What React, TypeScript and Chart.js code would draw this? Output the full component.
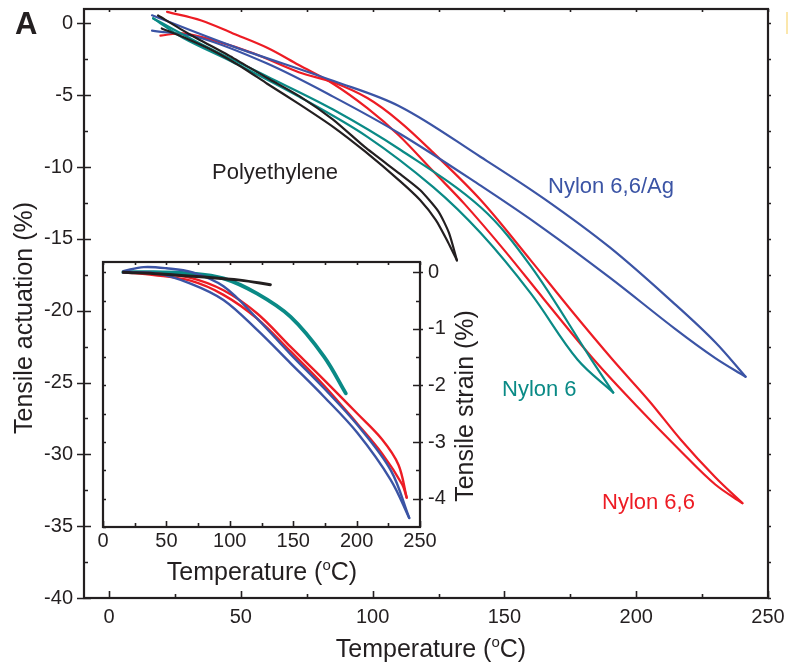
import React, { useEffect, useRef } from "react";
import { Chart, registerables } from "chart.js";

Chart.register(...registerables);

const FONT = '"Liberation Sans", Arial, Helvetica, sans-serif';
const INK = "#231f20";
const RED = "#ed1c24";
const BLUE = "#3b54a5";
const TEAL = "#0a8a86";
const BLACK = "#231f20";

// ---------- main panel: tensile actuation (%) vs temperature ----------
const mainXTicks = [0, 50, 100, 150, 200, 250];
const mainXMinor = [25, 75, 125, 175, 225];
const mainXTop = [0, 25, 50, 75, 100, 125, 150, 175, 200, 225, 250];
const mainYTicks = [0, -5, -10, -15, -20, -25, -30, -35, -40];
const mainYMinor = [-2.5, -7.5, -12.5, -17.5, -22.5, -27.5, -32.5, -37.5];

// Nylon 6,6 (red), two branches of the loop
const n66aT = [22, 35, 47, 60, 72, 85, 98, 110, 123, 135, 150, 165, 183.9, 200, 217, 230, 240.3];
const n66aA = [0.8, 0.2, -0.7, -1.7, -2.9, -4.2, -5.9, -7.8, -10.3, -12.6, -15.8, -19.2, -23.4, -26.6, -29.8, -32.1, -33.4];
const n66bT = [19.5, 28, 40, 55, 72, 85, 98, 110, 123, 141, 160, 175, 191, 205, 217, 230, 240.3];
const n66bA = [-0.85, -0.7, -1.2, -2.1, -3.4, -4.1, -5.2, -6.8, -9.0, -12.3, -16.5, -19.9, -23.4, -26.3, -29.0, -31.6, -33.4];

// Nylon 6 (teal)
const n6aT = [16.7, 34.5, 60, 85, 110.5, 141, 160, 183, 191.3];
const n6aA = [0.35, -1.4, -3.7, -6.0, -8.8, -12.8, -16.9, -23.4, -25.7];
const n6bT = [16.7, 28, 47, 72, 98, 123, 141, 160, 177.7, 191.3];
const n6bA = [0.35, -1.0, -2.7, -5.1, -7.9, -11.4, -14.6, -18.8, -23.4, -25.7];

// Nylon 6,6/Ag (blue)
const agaT = [16.3, 47, 85, 110.5, 141, 165, 190, 215, 230, 241.5];
const agaA = [0.56, -1.6, -4.0, -5.8, -9.3, -12.2, -15.6, -19.6, -22.2, -24.6];
const agbT = [16.3, 34.5, 60, 85, 110.5, 141, 165, 190, 215, 230, 241.5];
const agbA = [-0.5, -1.0, -2.8, -5.1, -7.7, -11.3, -14.3, -17.7, -21.3, -23.3, -24.6];

// Polyethylene (black)
const peaT = [18.6, 30, 47, 60, 72.5, 85, 97, 110.5, 118, 125, 129, 132];
const peaA = [0.55, -0.7, -2.4, -3.8, -5.1, -6.7, -8.6, -10.5, -11.6, -13.1, -14.6, -16.5];
const pebT = [20, 30, 39.5, 50, 60, 72, 85, 97, 110.5, 118, 124, 128.5, 132];
const pebA = [-0.35, -1.1, -1.9, -3.0, -4.2, -5.6, -7.2, -8.9, -11.0, -12.3, -13.7, -15.2, -16.5];

// ---------- inset: tensile strain (%) vs temperature ----------
const insetXTicks = [0, 50, 100, 150, 200, 250];
const insetXMinor = [25, 75, 125, 175, 225];
const insetXTop = [0, 25, 50, 75, 100, 125, 150, 175, 200, 225, 250];
const insetYTicks = [0, -1, -2, -3, -4];
const insetYMinor = [-0.5, -1.5, -2.5, -3.5];
const insetYLeft = [0, -0.5, -1, -1.5, -2, -2.5, -3, -3.5, -4, -4.5];

const ipeT = [16, 45, 76.7, 108, 132];
const ipeS = [0, -0.03, -0.08, -0.14, -0.22];
const in6T = [16, 40, 69, 95, 121.6, 148, 174.3, 191.5];
const in6S = [0, 0.0, -0.02, -0.11, -0.38, -0.79, -1.49, -2.14];
const iagaT = [16, 32, 50, 70, 95, 121.6, 148, 174.3, 200.7, 227, 241.5];
const iagaS = [0.02, 0.09, 0.07, 0.0, -0.25, -0.82, -1.45, -2.05, -2.7, -3.5, -4.34];
const iagbT = [16, 42, 69, 95, 121.6, 148, 174.3, 200.7, 227, 241.5];
const iagbS = [0, -0.02, -0.2, -0.49, -1.02, -1.61, -2.2, -2.84, -3.67, -4.34];
const in66aT = [16, 40, 69, 95, 121.6, 148, 174.3, 200.7, 220, 233, 239.5];
const in66aS = [0, -0.02, -0.1, -0.32, -0.73, -1.32, -1.9, -2.5, -2.95, -3.4, -3.98];
const in66bT = [16, 40, 69, 95, 121.6, 148, 174.3, 200.7, 220, 236, 239.5];
const in66bS = [0, -0.05, -0.15, -0.4, -0.82, -1.4, -2.0, -2.68, -3.2, -3.75, -3.98];

const pts = (xs: number[], ys: number[]) => xs.map((x, i) => ({ x, y: ys[i] }));

const line = (label: string, xs: number[], ys: number[], color: string, width: number, tension = 0.35) => ({
  label,
  data: pts(xs, ys),
  borderColor: color,
  backgroundColor: color,
  borderWidth: width,
  pointRadius: 0,
  tension,
  fill: false,
  borderCapStyle: "round" as const,
  borderJoinStyle: "round" as const,
});

type TickSet = { values: number[]; inLen: number; outLen: number };
type FrameSpec = {
  bottom: TickSet[];
  top: TickSet[];
  left: TickSet[];
  right: TickSet[];
  fillWhite?: boolean;
};

function framePlugin(id: string, spec: FrameSpec) {
  return {
    id,
    beforeDatasetsDraw(chart: any) {
      if (!spec.fillWhite) return;
      const { ctx, chartArea: a } = chart;
      ctx.save();
      ctx.fillStyle = "#ffffff";
      ctx.fillRect(a.left, a.top, a.right - a.left, a.bottom - a.top);
      ctx.restore();
    },
    afterDatasetsDraw(chart: any) {
      const { ctx, chartArea: a } = chart;
      const xs = chart.scales.x;
      const ys = chart.scales.y;
      ctx.save();
      ctx.strokeStyle = INK;
      ctx.lineWidth = 1.6;
      ctx.lineCap = "butt";
      ctx.beginPath();
      for (const t of spec.bottom)
        for (const v of t.values) {
          const px = Math.round(xs.getPixelForValue(v)) + 0.5;
          ctx.moveTo(px, a.bottom + t.outLen);
          ctx.lineTo(px, a.bottom - t.inLen);
        }
      for (const t of spec.top)
        for (const v of t.values) {
          const px = Math.round(xs.getPixelForValue(v)) + 0.5;
          ctx.moveTo(px, a.top - t.outLen);
          ctx.lineTo(px, a.top + t.inLen);
        }
      for (const t of spec.left)
        for (const v of t.values) {
          const py = Math.round(ys.getPixelForValue(v)) + 0.5;
          ctx.moveTo(a.left - t.outLen, py);
          ctx.lineTo(a.left + t.inLen, py);
        }
      for (const t of spec.right)
        for (const v of t.values) {
          const py = Math.round(ys.getPixelForValue(v)) + 0.5;
          ctx.moveTo(a.right + t.outLen, py);
          ctx.lineTo(a.right - t.inLen, py);
        }
      ctx.stroke();
      ctx.lineWidth = 2.2;
      ctx.strokeRect(a.left, a.top, a.right - a.left, a.bottom - a.top);
      ctx.restore();
    },
  };
}

function drawTempTitle(ctx: CanvasRenderingContext2D, cx: number, baseline: number, size: number) {
  const main = `${size}px ${FONT}`;
  const sup = `${Math.round(size * 0.6)}px ${FONT}`;
  const p1 = "Temperature (";
  const p2 = "o";
  const p3 = "C)";
  ctx.font = main;
  const w1 = ctx.measureText(p1).width;
  const w3 = ctx.measureText(p3).width;
  ctx.font = sup;
  const w2 = ctx.measureText(p2).width;
  let x = cx - (w1 + w2 + w3) / 2;
  ctx.textAlign = "left";
  ctx.textBaseline = "alphabetic";
  ctx.font = main;
  ctx.fillText(p1, x, baseline);
  x += w1;
  ctx.font = sup;
  ctx.fillText(p2, x, baseline - size * 0.42);
  x += w2;
  ctx.font = main;
  ctx.fillText(p3, x, baseline);
}

function drawRotated(ctx: CanvasRenderingContext2D, text: string, x: number, y: number, size: number) {
  ctx.save();
  ctx.translate(x, y);
  ctx.rotate(-Math.PI / 2);
  ctx.font = `${size}px ${FONT}`;
  ctx.textAlign = "center";
  ctx.textBaseline = "alphabetic";
  ctx.fillText(text, 0, 0);
  ctx.restore();
}

const mainTextPlugin = {
  id: "mainText",
  afterDraw(chart: any) {
    const ctx: CanvasRenderingContext2D = chart.ctx;
    ctx.save();
    ctx.fillStyle = INK;
    ctx.font = `bold 31px ${FONT}`;
    ctx.textAlign = "left";
    ctx.textBaseline = "alphabetic";
    ctx.fillText("A", 15, 34);
    drawTempTitle(ctx, 431, 657, 25);
    drawRotated(ctx, "Tensile actuation (%)", 32, 318, 25);
    ctx.font = `22px ${FONT}`;
    ctx.textAlign = "left";
    ctx.fillStyle = INK;
    ctx.fillText("Polyethylene", 212, 179);
    ctx.fillStyle = BLUE;
    ctx.fillText("Nylon 6,6/Ag", 548, 193);
    ctx.fillStyle = TEAL;
    ctx.fillText("Nylon 6", 502, 396);
    ctx.fillStyle = RED;
    ctx.fillText("Nylon 6,6", 602, 509);
    ctx.restore();
  },
};

const insetTextPlugin = {
  id: "insetText",
  afterDraw(chart: any) {
    const ctx: CanvasRenderingContext2D = chart.ctx;
    ctx.save();
    ctx.fillStyle = INK;
    // inset canvas is offset by (90, 250) on the page
    drawTempTitle(ctx, 262 - 90, 580 - 250, 25);
    drawRotated(ctx, "Tensile strain (%)", 473 - 90, 406 - 250, 25);
    ctx.restore();
  },
};

function tickFont(size: number) {
  return { family: FONT, size };
}

const fitX = (h: number) => (s: any) => {
  s.height = h;
  s.paddingLeft = 0;
  s.paddingRight = 0;
  s.paddingTop = 0;
  s.paddingBottom = 0;
};
const fitY = (w: number) => (s: any) => {
  s.width = w;
  s.paddingLeft = 0;
  s.paddingRight = 0;
  s.paddingTop = 0;
  s.paddingBottom = 0;
};

export default function App() {
  const mainRef = useRef<HTMLCanvasElement | null>(null);
  const insetRef = useRef<HTMLCanvasElement | null>(null);

  useEffect(() => {
    const mainChart = new Chart(mainRef.current as HTMLCanvasElement, {
      type: "line",
      data: {
        datasets: [
          line("Polyethylene a", peaT, peaA, BLACK, 2.2, 0.2),
          line("Polyethylene b", pebT, pebA, BLACK, 2.2, 0.2),
          line("Nylon 6 a", n6aT, n6aA, TEAL, 2.2),
          line("Nylon 6 b", n6bT, n6bA, TEAL, 2.2),
          line("Nylon 6,6/Ag a", agaT, agaA, BLUE, 2.2),
          line("Nylon 6,6/Ag b", agbT, agbA, BLUE, 2.2),
          line("Nylon 6,6 a", n66aT, n66aA, RED, 2.2),
          line("Nylon 6,6 b", n66bT, n66bA, RED, 2.2),
        ] as any,
      },
      options: {
        animation: false,
        responsive: false,
        maintainAspectRatio: false,
        layout: { padding: { top: 9, right: 20, left: 0, bottom: 0 } },
        plugins: { legend: { display: false }, tooltip: { enabled: false } },
        scales: {
          x: {
            type: "linear",
            min: -9.5,
            max: 250,
            afterBuildTicks: (s: any) => {
              s.ticks = mainXTicks.map((v) => ({ value: v }));
            },
            afterFit: fitX(66),
            grid: { display: false, drawTicks: false, tickLength: 0 },
            border: { display: false },
            ticks: { font: tickFont(20), color: INK, padding: 7, maxRotation: 0, autoSkip: false },
          },
          y: {
            type: "linear",
            min: -40,
            max: 1,
            afterBuildTicks: (s: any) => {
              s.ticks = mainYTicks.map((v) => ({ value: v }));
            },
            afterFit: fitY(84),
            grid: { display: false, drawTicks: false, tickLength: 0 },
            border: { display: false },
            ticks: { font: tickFont(20), color: INK, padding: 11, autoSkip: false },
          },
        },
      } as any,
      plugins: [
        framePlugin("mainFrame", {
          bottom: [
            { values: mainXTicks, inLen: 7, outLen: 0 },
            { values: mainXMinor, inLen: 4, outLen: 0 },
          ],
          top: [{ values: mainXTop, inLen: 3, outLen: 0 }],
          left: [
            { values: mainYTicks, inLen: 7, outLen: 7 },
            { values: mainYMinor, inLen: 4, outLen: 0 },
          ],
          right: [{ values: [...mainYTicks, ...mainYMinor], inLen: 0, outLen: 3 }],
        }) as any,
        mainTextPlugin as any,
      ],
    });

    const insetChart = new Chart(insetRef.current as HTMLCanvasElement, {
      type: "line",
      data: {
        datasets: [
          line("Polyethylene", ipeT, ipeS, BLACK, 3),
          line("Nylon 6,6/Ag a", iagaT, iagaS, BLUE, 2.4),
          line("Nylon 6,6/Ag b", iagbT, iagbS, BLUE, 2.4),
          line("Nylon 6,6 a", in66aT, in66aS, RED, 2.4),
          line("Nylon 6,6 b", in66bT, in66bS, RED, 2.4),
          line("Nylon 6", in6T, in6S, TEAL, 3.8),
        ] as any,
      },
      options: {
        animation: false,
        responsive: false,
        maintainAspectRatio: false,
        layout: { padding: { top: 12, right: 0, left: 13, bottom: 0 } },
        plugins: { legend: { display: false }, tooltip: { enabled: false } },
        scales: {
          x: {
            type: "linear",
            min: 0,
            max: 250,
            afterBuildTicks: (s: any) => {
              s.ticks = insetXTicks.map((v) => ({ value: v }));
            },
            afterFit: fitX(73),
            grid: { display: false, drawTicks: false, tickLength: 0 },
            border: { display: false },
            ticks: { font: tickFont(20), color: INK, padding: 2, maxRotation: 0, autoSkip: false },
          },
          y: {
            type: "linear",
            position: "right",
            min: -4.5,
            max: 0.18,
            afterBuildTicks: (s: any) => {
              s.ticks = insetYTicks.map((v) => ({ value: v }));
            },
            afterFit: fitY(70),
            grid: { display: false, drawTicks: false, tickLength: 0 },
            border: { display: false },
            ticks: { font: tickFont(20), color: INK, padding: 8, autoSkip: false },
          },
        },
      } as any,
      plugins: [
        framePlugin("insetFrame", {
          fillWhite: true,
          bottom: [
            { values: insetXTicks, inLen: 6, outLen: 0 },
            { values: insetXMinor, inLen: 4, outLen: 0 },
          ],
          top: [{ values: insetXTop, inLen: 3, outLen: 0 }],
          left: [{ values: insetYLeft, inLen: 3, outLen: 0 }],
          right: [
            { values: insetYTicks, inLen: 7, outLen: 3 },
            { values: insetYMinor, inLen: 4, outLen: 0 },
          ],
        }) as any,
        insetTextPlugin as any,
      ],
    });

    return () => {
      mainChart.destroy();
      insetChart.destroy();
    };
  }, []);

  return (
    <div
      style={{
        position: "fixed",
        left: 0,
        top: 0,
        width: 788,
        height: 664,
        background: "#ffffff",
        overflow: "hidden",
      }}
    >
      <canvas
        ref={mainRef}
        width={788}
        height={664}
        style={{ position: "absolute", left: 0, top: 0, width: 788, height: 664 }}
      />
      <canvas
        ref={insetRef}
        width={400}
        height={350}
        style={{ position: "absolute", left: 90, top: 250, width: 400, height: 350 }}
      />
      <div
        style={{ position: "absolute", left: 786, top: 12, width: 2, height: 22, background: "#fbe7ad" }}
      />
    </div>
  );
}
